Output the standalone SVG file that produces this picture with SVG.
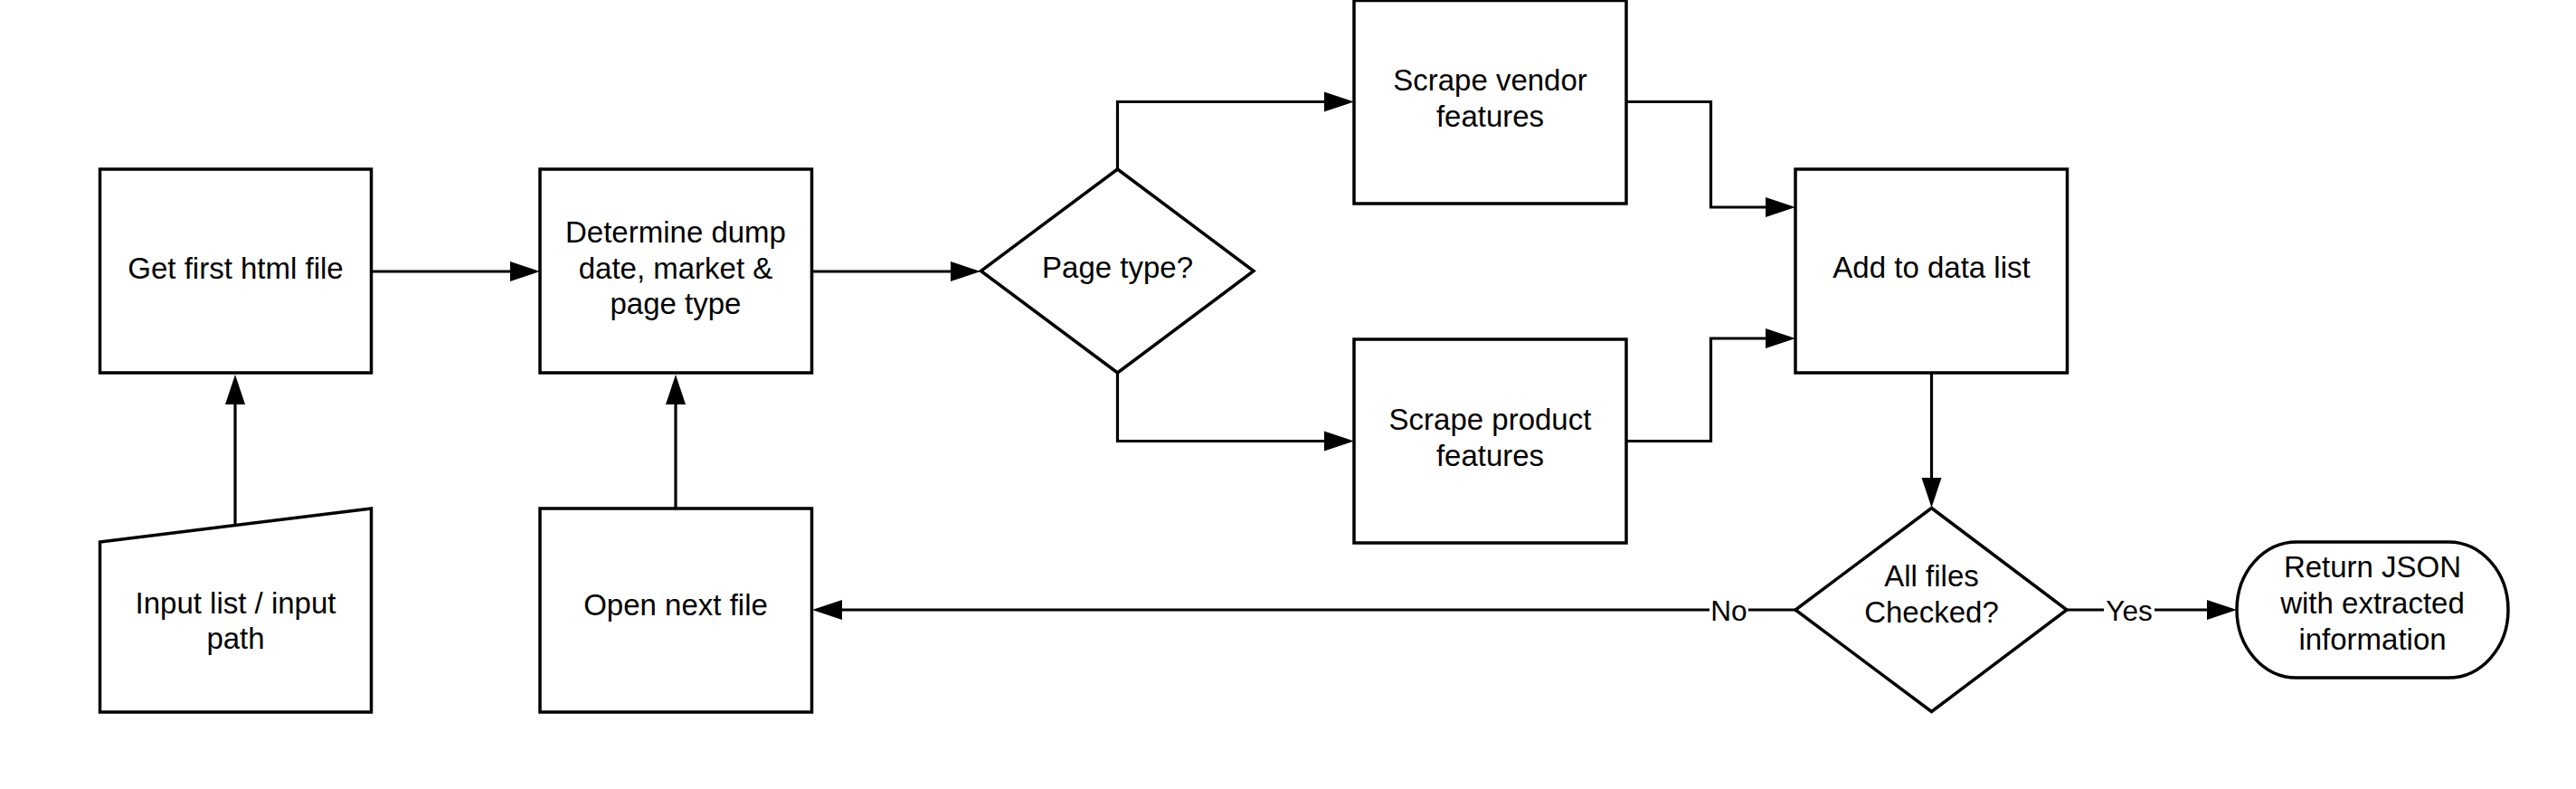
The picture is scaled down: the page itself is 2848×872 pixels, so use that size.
<svg xmlns="http://www.w3.org/2000/svg" width="2848" height="872" viewBox="0 0 2848 872">
<style>
.n{fill:#fff;stroke:#000;stroke-width:3.5}
.t{font-family:"Liberation Sans",Arial,sans-serif;font-size:33px;fill:#000;text-anchor:middle}
.l{font-family:"Liberation Sans",Arial,sans-serif;font-size:31.5px;fill:#000;text-anchor:middle}
.c{fill:none;stroke:#000;stroke-width:3.2}
</style>
<defs>
<marker id="ah" markerUnits="userSpaceOnUse" markerWidth="34" markerHeight="23" refX="0" refY="11" orient="auto" overflow="visible">
<path d="M0,0 L33,11 L0,22 z" fill="#000"/>
</marker>
</defs>
<rect width="2848" height="872" fill="#fff"/>
<g id="connectors">
<path class="c" d="M260,580 V447" marker-end="url(#ah)"/>
<path class="c" d="M410,300 H564" marker-end="url(#ah)"/>
<path class="c" d="M747,562 V447" marker-end="url(#ah)"/>
<path class="c" d="M897.5,300 H1051" marker-end="url(#ah)"/>
<path class="c" d="M1235.5,187 V112.5 H1464" marker-end="url(#ah)"/>
<path class="c" d="M1235.5,412 V487.5 H1464" marker-end="url(#ah)"/>
<path class="c" d="M1798,112.5 H1891.5 V229 H1952" marker-end="url(#ah)"/>
<path class="c" d="M1798,487.5 H1891.5 V374 H1952" marker-end="url(#ah)"/>
<path class="c" d="M2135.5,412 V528" marker-end="url(#ah)"/>
<path class="c" d="M1985,674 H931" marker-end="url(#ah)"/>
<path class="c" d="M2285,674 H2440" marker-end="url(#ah)"/>
<rect x="1890" y="655" width="43" height="38" fill="#fff"/>
<text class="l" x="1911.5" y="685.5">No</text>
<rect x="2326" y="655" width="56" height="38" fill="#fff"/>
<text class="l" x="2354" y="685.5">Yes</text>
</g>
<g id="get-first">
<rect class="n" x="110.5" y="187" width="300" height="225"/>
<text class="t" x="260.5" y="307.5">Get first html file</text>
</g>
<g id="determine">
<rect class="n" x="597" y="187" width="300.5" height="225"/>
<text class="t" x="747" y="268">Determine dump</text>
<text class="t" x="747" y="307.5">date, market &amp;</text>
<text class="t" x="747" y="347">page type</text>
</g>
<g id="page-type">
<polygon class="n" points="1235.5,187 1386,299.5 1235.5,412 1084.5,299.5"/>
<text class="t" x="1235.5" y="307">Page type?</text>
</g>
<g id="scrape-vendor">
<rect class="n" x="1497" y="0.5" width="301" height="224.5"/>
<text class="t" x="1647.5" y="100">Scrape vendor</text>
<text class="t" x="1647.5" y="140">features</text>
</g>
<g id="scrape-product">
<rect class="n" x="1497" y="375" width="301" height="225"/>
<text class="t" x="1647.5" y="475">Scrape product</text>
<text class="t" x="1647.5" y="515">features</text>
</g>
<g id="add-data">
<rect class="n" x="1985" y="187" width="300.5" height="225"/>
<text class="t" x="2135.5" y="307">Add to data list</text>
</g>
<g id="all-files">
<polygon class="n" points="2135.5,561.5 2285,674 2135.5,786.5 1985,674"/>
<text class="t" x="2135.5" y="648">All files</text>
<text class="t" x="2135.5" y="688">Checked?</text>
</g>
<g id="return-json">
<rect class="n" x="2473" y="599" width="300" height="150" rx="66" ry="75"/>
<text class="t" x="2623" y="638">Return JSON</text>
<text class="t" x="2623" y="678">with extracted</text>
<text class="t" x="2623" y="718">information</text>
</g>
<g id="open-next">
<rect class="n" x="597" y="562" width="300.5" height="225"/>
<text class="t" x="747" y="680">Open next file</text>
</g>
<g id="input-list">
<polygon class="n" points="110.5,599 410.5,562 410.5,787 110.5,787"/>
<text class="t" x="260.5" y="678">Input list / input</text>
<text class="t" x="260.5" y="717">path</text>
</g>
</svg>
